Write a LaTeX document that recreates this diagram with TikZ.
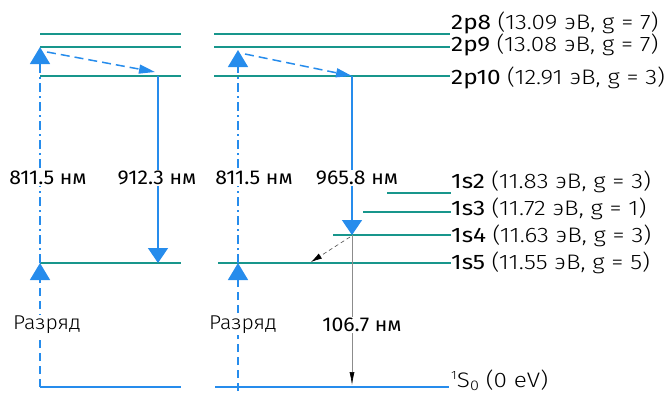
\documentclass[tikz,border=0pt]{standalone}
\usepackage{fontspec}
\setmainfont{Fira Sans}
\newfontfamily\wlf{Fira Sans}[FakeStretch=1.06]
\newfontfamily\wllt{Fira Sans Light}[FakeStretch=1.06]
\newfontfamily\lvf{Fira Sans}[FakeStretch=1.16]
\newfontfamily\lvlt{Fira Sans Light}[FakeStretch=1.16]
\usetikzlibrary{arrows.meta}
\definecolor{teal1}{RGB}{24,150,140}
\definecolor{blue1}{RGB}{38,140,236}
\definecolor{thin1}{RGB}{140,140,140}
\tikzset{
  lev/.style={draw=teal1, line width=2.7pt},
  gnd/.style={draw=blue1, line width=1.4pt},
  bigtip/.style={-{Triangle[length=17pt,width=20pt,fill=blue1]}},
  pump/.style={draw=blue1, line width=1.5pt, dash pattern=on 9pt off 4pt on 2pt off 4pt, bigtip},
  disch/.style={draw=blue1, line width=1.5pt, dash pattern=on 8pt off 5pt, bigtip},
  emit/.style={draw=blue1, line width=1.5pt, -{Triangle[length=15pt,width=20pt,fill=blue1]}},
  coll/.style={draw=blue1, line width=1.5pt, dash pattern=on 9pt off 5pt, -{Triangle[length=16pt,width=9pt,fill=blue1]}},
  vuv/.style={draw=thin1, line width=0.6pt, -{Latex[length=13pt,width=5pt,fill=black,color=black]}},
  relax/.style={draw=black!70, line width=0.6pt, dash pattern=on 4pt off 3pt, -{Latex[length=11pt,width=6pt,fill=black,color=black]}},
  wl/.style={fill=white, inner sep=1pt, font=\wlf\fontsize{20}{22}\selectfont},
  lvl/.style={anchor=west, inner sep=0pt, font=\lvf\fontsize{21}{23}\selectfont},
}
\newcommand{\paren}[1]{{\lvlt\fontsize{21}{23}\selectfont #1}}
\begin{document}
\begin{tikzpicture}[x=1pt,y=-1pt]
\useasboundingbox (0,0) rectangle (668,394);
% ---- coordinates: left column
\coordinate (Lp8a) at (40,34);  \coordinate (Lp8b) at (181,34);
\coordinate (Lp9a) at (40,47);  \coordinate (Lp9b) at (181,47);
\coordinate (Lp10a) at (40,76); \coordinate (Lp10b) at (181,76);
\coordinate (Ls5a) at (40,263); \coordinate (Ls5b) at (181,263);
\coordinate (Lga) at (40,387);  \coordinate (Lgb) at (181,387);
% ---- right column
\coordinate (Rp8a) at (214,34);  \coordinate (Rp8b) at (450,34);
\coordinate (Rp9a) at (214,47);  \coordinate (Rp9b) at (450,47);
\coordinate (Rp10a) at (214,76); \coordinate (Rp10b) at (450,76);
\coordinate (Rs2a) at (387,193); \coordinate (Rs2b) at (451,193);
\coordinate (Rs3a) at (363,212); \coordinate (Rs3b) at (451,212);
\coordinate (Rs4a) at (333,235); \coordinate (Rs4b) at (451,235);
\coordinate (Rs5a) at (218,263); \coordinate (Rs5b) at (451,263);
\coordinate (Rga) at (215,387);  \coordinate (Rgb) at (449,387);
% levels
\draw[lev] (Lp8a) -- (Lp8b);
\draw[lev] (Lp9a) -- (Lp9b);
\draw[lev] (Lp10a) -- (Lp10b);
\draw[lev] (Ls5a) -- (Ls5b);
\draw[gnd] (Lga) -- (Lgb);
\draw[lev] (Rp8a) -- (Rp8b);
\draw[lev] (Rp9a) -- (Rp9b);
\draw[lev] (Rp10a) -- (Rp10b);
\draw[lev] (Rs2a) -- (Rs2b);
\draw[lev] (Rs3a) -- (Rs3b);
\draw[lev] (Rs4a) -- (Rs4b);
\draw[lev] (Rs5a) -- (Rs5b);
\draw[gnd] (Rga) -- (Rgb);
% arrow end points
\coordinate (Ldis0) at (40,387);  \coordinate (Ldis1) at (40,263);
\coordinate (Lpump1) at (40,47);
\coordinate (Lc0) at (47,52);     \coordinate (Lc1) at (155,72);
\coordinate (Le0) at (158,76);    \coordinate (Le1) at (158,263);
\coordinate (Rdis0) at (238,391); \coordinate (Rdis1) at (238,263);
\coordinate (Rpump1) at (238,50);
\coordinate (Rc0) at (245,54);    \coordinate (Rc1) at (352,76);
\coordinate (Re0) at (352,76);    \coordinate (Re1) at (352,235);
\coordinate (Rv1) at (352,385);
\coordinate (Rr0) at (350,237);   \coordinate (Rr1) at (311,262);
% transitions
\draw[disch] (Ldis0) -- (Ldis1);
\draw[pump] (Ldis1) -- (Lpump1);
\draw[coll] (Lc0) -- (Lc1);
\draw[emit] (Le0) -- (Le1);
\draw[disch] (Rdis0) -- (Rdis1);
\draw[pump] (Rdis1) -- (Rpump1);
\draw[coll] (Rc0) -- (Rc1);
\draw[emit] (Re0) -- (Re1);
\draw[vuv] (Re1) -- (Rv1);
\draw[relax] (Rr0) -- (Rr1);
% wavelength labels
\node[wl] (wl1) at (48,178) {811.5 нм};
\node[wl] (wl2) at (157,178) {912.3 нм};
\node[wl] (wl3) at (254,178) {811.5 нм};
\node[wl] (wl4) at (357,178) {965.8 нм};
\node[wl] (wl5) at (362,325) {106.7 нм};
\node[wl,font=\wllt\fontsize{20}{22}\selectfont] (dis1) at (47,325) {Разряд};
\node[wl,font=\wllt\fontsize{20}{22}\selectfont] (dis2) at (243,325) {Разряд};
% level labels
\node[lvl] (t2p8) at (451,23) {2p8 \paren{(13.09 эВ, g = 7)}};
\node[lvl] (t2p9) at (451,45) {2p9 \paren{(13.08 эВ, g = 7)}};
\node[lvl] (t2p10) at (451,78) {2p10 \paren{(12.91 эВ, g = 3)}};
\node[lvl] (t1s2) at (451,182) {1s2 \paren{(11.83 эВ, g = 3)}};
\node[lvl] (t1s3) at (451,209) {1s3 \paren{(11.72 эВ, g = 1)}};
\node[lvl] (t1s4) at (451,236) {1s4 \paren{(11.63 эВ, g = 3)}};
\node[lvl] (t1s5) at (451,263) {1s5 \paren{(11.55 эВ, g = 5)}};
\node[lvl] (t1s0) at (451,380) {\paren{\raisebox{8pt}{\fontsize{12}{13}\selectfont 1}S\raisebox{-3pt}{\fontsize{14}{15}\selectfont 0} (0 eV)}};
\end{tikzpicture}
\end{document}
